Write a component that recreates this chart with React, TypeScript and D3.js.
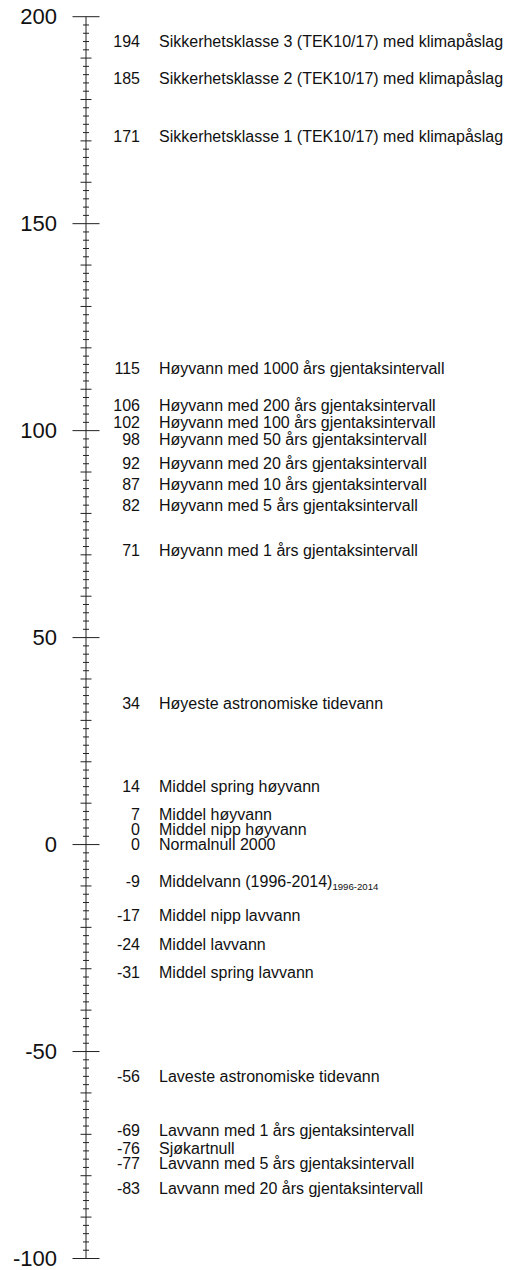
import React from 'react';
import * as d3 from 'd3';

// levels in cm relative to NN2000
const levelValues = [194, 185, 171, 115, 106, 102, 98, 92, 87, 82, 71, 34, 14, 7, 0, 0, -9, -17, -24, -31, -56, -69, -76, -77, -83];
const levelNames = [
  'Sikkerhetsklasse 3 (TEK10/17) med klimapåslag',
  'Sikkerhetsklasse 2 (TEK10/17) med klimapåslag',
  'Sikkerhetsklasse 1 (TEK10/17) med klimapåslag',
  'Høyvann med 1000 års gjentaksintervall',
  'Høyvann med 200 års gjentaksintervall',
  'Høyvann med 100 års gjentaksintervall',
  'Høyvann med 50 års gjentaksintervall',
  'Høyvann med 20 års gjentaksintervall',
  'Høyvann med 10 års gjentaksintervall',
  'Høyvann med 5 års gjentaksintervall',
  'Høyvann med 1 års gjentaksintervall',
  'Høyeste astronomiske tidevann',
  'Middel spring høyvann',
  'Middel høyvann',
  'Middel nipp høyvann',
  'Normalnull 2000',
  'Middelvann (1996-2014)',
  'Middel nipp lavvann',
  'Middel lavvann',
  'Middel spring lavvann',
  'Laveste astronomiske tidevann',
  'Lavvann med 1 års gjentaksintervall',
  'Sjøkartnull',
  'Lavvann med 5 års gjentaksintervall',
  'Lavvann med 20 års gjentaksintervall',
];
const levelSubs = ['', '', '', '', '', '', '', '', '', '', '', '', '', '', '', '', '1996-2014', '', '', '', '', '', '', '', ''];
const axisDomain = [-100, 200];
const axisTicks = [-100, -50, 0, 50, 100, 150, 200];

const font = '"Liberation Sans", Arial, Helvetica, sans-serif';

export default function App() {
  const width = 510;
  const height = 1270;
  const axisX = 86;

  const y = d3.scaleLinear().domain(axisDomain).range([1258.5, 16.7]);

  const minor = d3.range(axisDomain[0], axisDomain[1] + 1, 2);

  // label layout: push labels upward when they collide with the one below
  const gap = 15;
  const pos = levelValues.map((v) => y(v));
  for (let i = pos.length - 2; i >= 0; i--) {
    if (pos[i + 1] - pos[i] < gap) pos[i] = pos[i + 1] - gap;
  }

  const ticks = minor.map((v) => {
    const half = v % 50 === 0 ? 13.5 : v % 10 === 0 ? 5.5 : 3;
    return (
      <line key={'t' + v} x1={axisX - half} x2={axisX + half} y1={y(v)} y2={y(v)}
            stroke="#222" strokeWidth={1} />
    );
  });

  const tickLabels = axisTicks.map((v) => (
    <text key={'l' + v} x={57} y={y(v)} dy="0.35em" textAnchor="end"
          fontSize={22} fill="#111">{v}</text>
  ));

  const labels = levelValues.map((v, i) => (
    <g key={'lv' + i} transform={'translate(0,' + pos[i] + ')'}>
      <text x={140} dy="0.35em" textAnchor="end" fontSize={16} fill="#111">{v}</text>
      <text x={159} dy="0.35em" fontSize={16} fill="#111">
        {levelNames[i]}
        {levelSubs[i] ? <tspan fontSize={9.6} dy="3">{levelSubs[i]}</tspan> : null}
      </text>
    </g>
  ));

  return (
    <svg width={width} height={height} fontFamily={font}
         style={{ position: 'absolute', left: 0, top: 0, background: '#fff' }}>
      <line x1={axisX} x2={axisX} y1={y(axisDomain[1])} y2={y(axisDomain[0])} stroke="#222" strokeWidth={1} />
      {ticks}
      {tickLabels}
      {labels}
    </svg>
  );
}
